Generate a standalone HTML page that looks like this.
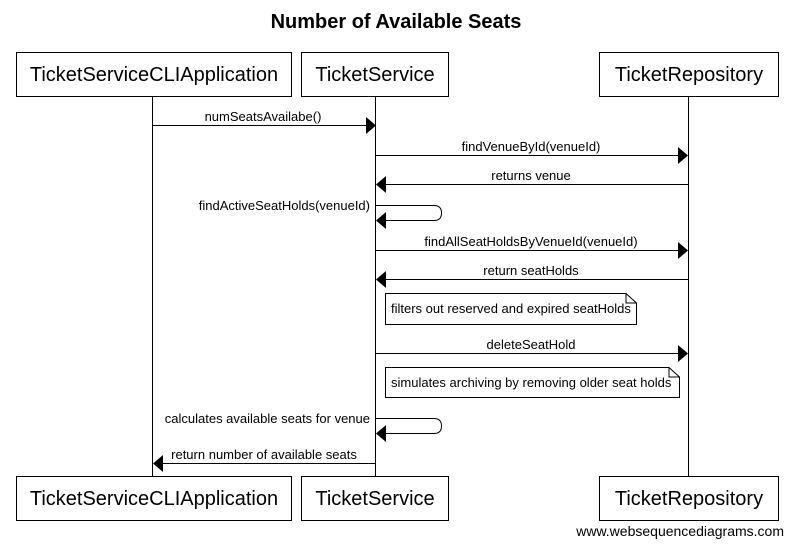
<!DOCTYPE html>
<html><head><meta charset="utf-8"><style>
body{margin:0;background:#fff}
text{font-family:"Liberation Sans",sans-serif}
.s{font-size:13px;fill:#000}
.a{font-size:20px}
</style></head><body>
<svg width="792" height="547" viewBox="0 0 792 547" xmlns="http://www.w3.org/2000/svg">
<text x="396" y="28" text-anchor="middle" font-size="20" font-weight="bold">Number of Available Seats</text>
<g stroke="#000" stroke-width="1" fill="none">
<line x1="152.5" y1="97" x2="152.5" y2="477"/>
<line x1="375.5" y1="97" x2="375.5" y2="477"/>
<line x1="688.5" y1="97" x2="688.5" y2="477"/>
<rect x="16.5" y="52.5" width="275" height="44" fill="#fff"/>
<rect x="301.5" y="52.5" width="147" height="44" fill="#fff"/>
<rect x="599.5" y="52.5" width="179" height="44" fill="#fff"/>
<rect x="16.5" y="476.5" width="275" height="44" fill="#fff"/>
<rect x="301.5" y="476.5" width="147" height="44" fill="#fff"/>
<rect x="599.5" y="476.5" width="179" height="44" fill="#fff"/>
<line x1="152" y1="125.5" x2="366" y2="125.5"/>
<line x1="375" y1="155.5" x2="679" y2="155.5"/>
<line x1="385" y1="184.5" x2="688" y2="184.5"/>
<path d="M375 205.5 H434 Q441.5 205.5 441.5 213 Q441.5 220.5 434 220.5 H385"/>
<line x1="375" y1="250.5" x2="679" y2="250.5"/>
<line x1="385" y1="279.5" x2="688" y2="279.5"/>
<line x1="375" y1="353.5" x2="679" y2="353.5"/>
<path d="M375 418.5 H434 Q441.5 418.5 441.5 426 Q441.5 433.5 434 433.5 H385"/>
<line x1="162" y1="463.5" x2="375" y2="463.5"/>
<path d="M385.5 293.5 H626 L636.5 303 V324.5 H385.5 Z M626 293.5 V303 H636.5" fill="#fff"/>
<path d="M385.5 367.5 H669 L679.5 377 V397.5 H385.5 Z M669 367.5 V377 H679.5" fill="#fff"/>
</g>
<g fill="#000">
<polygon points="366,117 376,125.5 366,134"/>
<polygon points="678,147 688,155.5 678,164"/>
<polygon points="386,176 376,184.5 386,193"/>
<polygon points="386,212 376,220.5 386,229"/>
<polygon points="678,242 688,250.5 678,259"/>
<polygon points="386,271 376,279.5 386,288"/>
<polygon points="678,345 688,353.5 678,362"/>
<polygon points="386,425 376,433.5 386,442"/>
<polygon points="163,455 153,463.5 163,472"/>
</g>
<g class="a" text-anchor="middle">
<text x="154" y="81">TicketServiceCLIApplication</text>
<text x="375" y="81">TicketService</text>
<text x="689" y="81">TicketRepository</text>
<text x="154" y="505">TicketServiceCLIApplication</text>
<text x="375" y="505">TicketService</text>
<text x="689" y="505">TicketRepository</text>
</g>
<g class="s" text-anchor="middle">
<text x="263" y="121">numSeatsAvailabe()</text>
<text x="531" y="151">findVenueById(venueId)</text>
<text x="531" y="180">returns venue</text>
<text x="531" y="246">findAllSeatHoldsByVenueId(venueId)</text>
<text x="531" y="275">return seatHolds</text>
<text x="531" y="349">deleteSeatHold</text>
<text x="264" y="459">return number of available seats</text>
</g>
<g class="s" text-anchor="end">
<text x="370" y="210">findActiveSeatHolds(venueId)</text>
<text x="370" y="423">calculates available seats for venue</text>
</g>
<text class="s" x="391" y="313">filters out reserved and expired seatHolds</text>
<text class="s" x="391" y="387">simulates archiving by removing older seat holds</text>
<text x="784" y="536" text-anchor="end" font-size="14">www.websequencediagrams.com</text>
</svg>
</body></html>
